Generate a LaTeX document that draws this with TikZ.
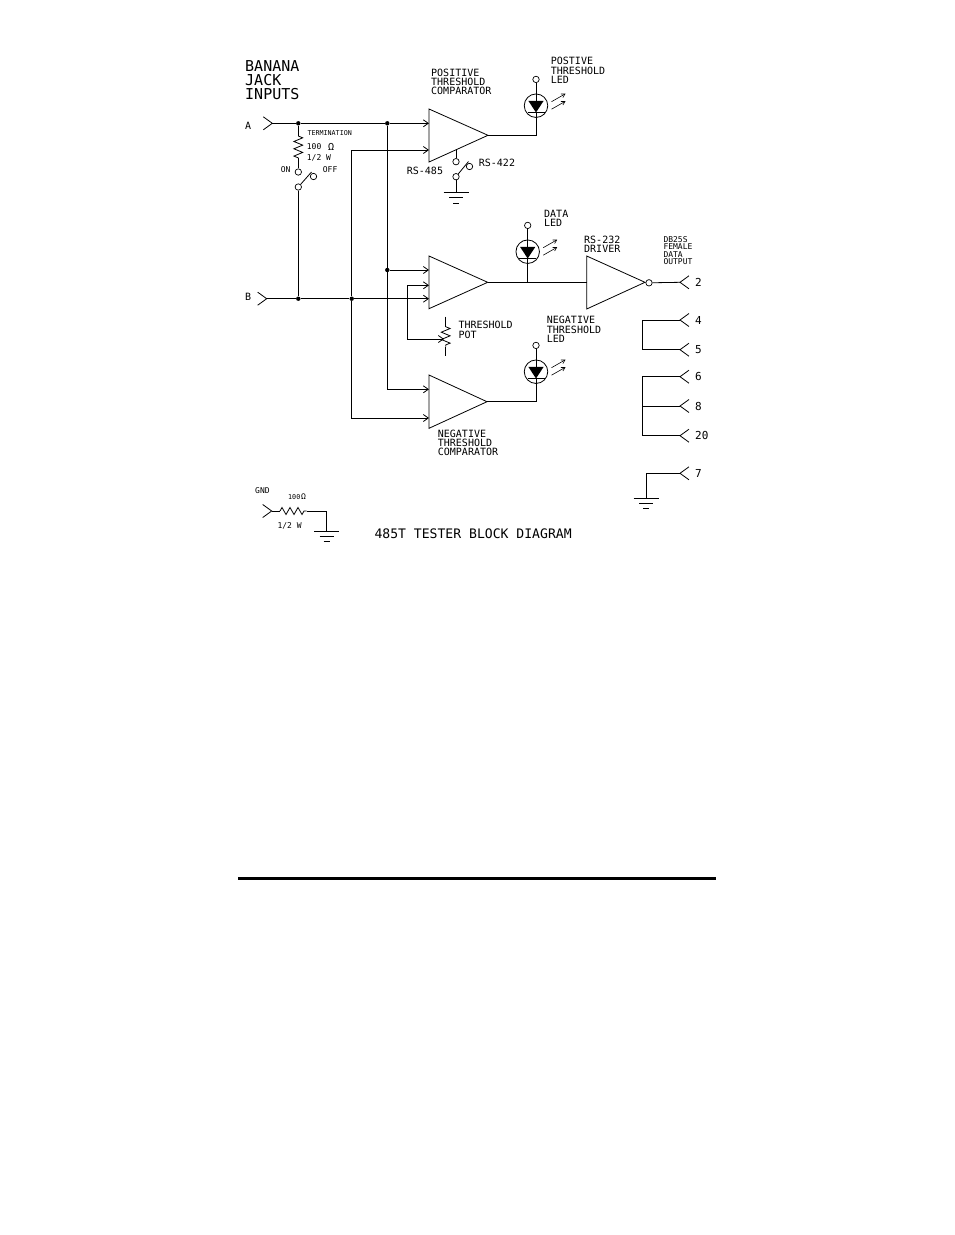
\documentclass[tikz,border=0pt]{standalone}
\usepackage{fontspec}
\setmainfont{DejaVu Sans Mono}
\usetikzlibrary{arrows.meta,decorations.pathmorphing}
\tikzset{
  wire/.style={line width=0.8pt},
  inarrow/.style={wire,-{Straight Barb[length=5pt,width=7pt]}},
  ledarrow/.style={line width=0.6pt,-{Straight Barb[length=3.5pt,width=4pt]}},
  junc/.style={circle,fill=black,inner sep=0pt,minimum size=4.4pt},
  hole/.style={circle,draw,line width=0.7pt,inner sep=0pt,minimum size=6.4pt},
  ledring/.style={circle,draw,line width=0.8pt,inner sep=0pt,minimum size=23.5pt},
  resist/.style={wire,decorate,decoration={zigzag,amplitude=4.4pt,segment length=7.3pt}},
  big/.style={anchor=west,inner sep=0pt,align=left,font=\fontsize{15}{14}\selectfont},
  mid/.style={anchor=west,inner sep=0pt,align=left,font=\fontsize{10}{9.3}\selectfont},
  small/.style={anchor=west,inner sep=0pt,align=left,font=\fontsize{8}{7.5}\selectfont},
  tiny/.style={anchor=west,inner sep=0pt,align=left,font=\fontsize{6.7}{7}\selectfont},
  pin/.style={anchor=west,inner sep=0pt,font=\fontsize{11}{11}\selectfont}
}
\begin{document}
\begin{tikzpicture}[x=1pt,y=-1pt]
    \fill[white] (0,0) rectangle (954,1235); %page

    %Amplifiers
    \foreach \nm/\xa/\ya/\yb/\xo/\yo in {cpos/429/109/162/488/135.3,cdat/429/256/308.7/487.7/282.3,cneg/429/375/428.3/487/401.7,cdrv/586.7/256/309/645/282.3}{
      \draw[wire] (\xa,\ya) -- (\xo,\yo) -- (\xa,\yb) --cycle;
      \coordinate (\nm) at (\xo,\yo);
    }
    \node[hole] (bub) at (649,282.8) {}; %driver bubble

    %Jacks on the left
    \foreach \nm/\xx/\yy in {jka/272.3/123.3,jkb/266.7/298.7,jkg/271.7/511}{
      \coordinate (\nm) at (\xx,\yy);
      \draw[wire] (\xx-9,\yy-6.5) -- (\nm) -- (\xx-9,\yy+6.5);
    }
    \node[mid] (la) at (245,126) {A};
    \node[mid] (lb) at (245,297) {B};
    \node[small] (lgnd) at (255,491) {GND};

    %Jacks on the right
    \foreach \nm/\yy/\lb in {jr2/282.3/2,jr4/320/4,jr5/349.7/5,jr6/376.7/6,jr8/406/8,jr20/435.7/20,jr7/473.3/7}{
      \coordinate (\nm) at (680,\yy);
      \draw[wire] (689,\yy-6.5) -- (\nm) -- (689,\yy+6.5);
      \node[pin] (l\nm) at (695,\yy) {\lb};
    }

    %LEDs
    \foreach \nm/\xx/\yy in {ledp/536/105.7,ledd/527.7/251.7,ledn/536/371.7}{
      \begin{scope}[shift={(\xx,\yy)}]
        \node[ledring] (\nm) at (0,0) {};
        \node[hole] (\nm t) at (0,-26.3) {};
        \coordinate (\nm a) at (0,6.8);
        \fill (-7.6,-4.8) -- (7.6,-4.8) -- (\nm a) --cycle;
        \draw[wire] (\nm t) -- (0,-4.8);
        \draw[wire] (-8.5,6.8) -- (8.5,6.8);
        \draw[ledarrow] (15.5,-4) -- (29.5,-12);
        \draw[ledarrow] (15.5,3.5) -- (29.5,-4.5);
      \end{scope}
    }

    %Input A and termination
    \node[junc] (ja1) at (298.3,123.3) {};
    \node[junc] (ja2) at (387.3,123.3) {};
    \coordinate (cposa) at (429,123.3);
    \draw[wire] (jka) -- (ja1) -- (ja2);
    \draw[inarrow] (ja2) -- (cposa);
    \coordinate (rat) at (298.3,136);
    \coordinate (rab) at (298.3,158);
    \draw[wire] (ja1) -- (rat);
    \draw[resist] (rat) -- (rab);
    \node[hole] (son) at (298.3,172) {}; %ON
    \node[hole] (soff) at (313.5,176.5) {}; %OFF
    \node[hole] (spiv) at (298.3,187) {};
    \coordinate (slev) at (311.5,172);
    \draw[wire] (rab) -- (son);
    \draw[wire] (spiv) -- (slev);

    %Input B
    \node[junc] (jb1) at (298.3,298.7) {};
    \node[junc] (jb2) at (351.7,298.7) {};
    \coordinate (cdatb) at (429,298.7);
    \draw[wire] (jkb) -- (jb1) -- (jb2);
    \draw[inarrow] (jb2) -- (cdatb);
    \draw[wire] (spiv) -- (jb1);

    %Feeds to the amplifiers
    \coordinate (bup) at (351.7,150);
    \coordinate (cposb) at (429,150);
    \coordinate (bdn) at (351.7,418);
    \coordinate (cnegb) at (429,418);
    \draw[inarrow] (jb2) -- (bup) -- (cposb);
    \draw[inarrow] (jb2) -- (bdn) -- (cnegb);
    \node[junc] (ja3) at (387.3,270) {};
    \coordinate (cdata) at (429,270);
    \coordinate (adn) at (387.3,389.3);
    \coordinate (cnega) at (429,389.3);
    \draw[wire] (ja2) -- (ja3);
    \draw[inarrow] (ja3) -- (cdata);
    \draw[inarrow] (ja3) -- (adn) -- (cnega);

    %Threshold pot
    \coordinate (tup) at (407.3,285.3);
    \coordinate (cdatc) at (429,285.3);
    \coordinate (tdn) at (407.3,339);
    \coordinate (pwip) at (444,339);
    \coordinate (ptop) at (445.7,316.7);
    \coordinate (prt) at (445.7,326.7);
    \coordinate (prb) at (445.7,346.7);
    \coordinate (pbot) at (445.7,356);
    \draw[inarrow] (tdn) -- (tup) -- (cdatc);
    \draw[inarrow] (tdn) -- (pwip);
    \draw[wire] (ptop) -- (prt);
    \draw[resist] (prt) -- (prb);
    \draw[wire] (prb) -- (pbot);

    %RS-485 / RS-422 switch
    \coordinate (cposg) at (456,150);
    \node[hole] (s85) at (456,161.7) {};
    \node[hole] (s22) at (469.5,166.5) {};
    \node[hole] (sgp) at (456,176.7) {};
    \coordinate (sgl) at (468.5,161.5);
    \coordinate (g1) at (456,192.7);
    \draw[wire] (cposg) -- (s85);
    \draw[wire] (sgp) -- (sgl);
    \draw[wire] (sgp) -- (g1);

    %Outputs
    \coordinate (ledpb) at (536,135.3);
    \draw[wire] (cpos) -- (ledpb) -- (ledpa);
    \coordinate (leddb) at (527.7,282.3);
    \coordinate (cdrvi) at (586.7,282.3);
    \draw[wire] (cdat) -- (leddb) -- (cdrvi);
    \draw[wire] (leddb) -- (ledda);
    \coordinate (lednb) at (536,401.7);
    \draw[wire] (cneg) -- (lednb) -- (ledna);
    \draw[wire] (bub) -- (jr2);

    %Looped pins
    \coordinate (l45t) at (642.5,320);
    \coordinate (l45b) at (642.5,349.7);
    \draw[wire] (jr4) -- (l45t) -- (l45b) -- (jr5);
    \coordinate (l6t) at (642.5,376.7);
    \coordinate (l6m) at (642.5,406);
    \coordinate (l6b) at (642.5,435.7);
    \draw[wire] (jr6) -- (l6t) -- (l6m) -- (l6b) -- (jr20);
    \draw[wire] (l6m) -- (jr8);
    \coordinate (l7) at (646,473.3);
    \coordinate (g2) at (646,498.3);
    \draw[wire] (jr7) -- (l7) -- (g2);

    %GND resistor
    \coordinate (rgl) at (280,511);
    \coordinate (rgr) at (306.7,511);
    \coordinate (rge) at (326.7,511);
    \coordinate (g3) at (326.7,531.3);
    \draw[wire] (jkg) -- (rgl);
    \draw[wire,decorate,decoration={zigzag,amplitude=3.5pt,segment length=8pt}] (rgl) -- (rgr);
    \draw[wire] (rgr) -- (rge) -- (g3);

    %Grounds
    \foreach \gd in {g1,g2,g3}{
      \begin{scope}[shift={(\gd)}]
        \draw[wire] (-12.5,0) -- (12.5,0);
        \draw[wire] (-7,5) -- (7,5);
        \draw[wire] (-3,10.5) -- (3,10.5);
      \end{scope}
    }

    %Labels
    \node[big] (banana) at (245,80.5) {BANANA\\[0pt]JACK\\[0pt]INPUTS};
    \node[mid] (cposl) at (431,82) {POSITIVE\\THRESHOLD\\COMPARATOR};
    \node[mid] (ledpl) at (550.7,70.3) {POSTIVE\\THRESHOLD\\LED};
    \node[tiny] (term) at (307.3,132.7) {TERMINATION};
    \node[small] (r100) at (306.7,146.7) {100};
    \node[mid] (rohm) at (328,146.7) {Ω};
    \node[small] (r12) at (306.7,157.6) {1/2 W};
    \node[small] (lon) at (280.7,170) {ON};
    \node[small] (loff) at (322.7,170) {OFF};
    \node[mid] (l485) at (406.7,171.3) {RS-485};
    \node[mid] (l422) at (478.7,163.3) {RS-422};
    \node[mid] (leddl) at (544,218) {DATA\\LED};
    \node[mid] (drvl) at (584,244.5) {RS-232\\DRIVER};
    \node[small] (dbl) at (663.3,250.5) {DB25S\\FEMALE\\DATA\\OUTPUT};
    \node[mid] (potl) at (458.3,330) {THRESHOLD\\POT};
    \node[mid] (lednl) at (546.7,329.3) {NEGATIVE\\THRESHOLD\\LED};
    \node[mid] (cnegl) at (437.7,443) {NEGATIVE\\THRESHOLD\\COMPARATOR};
    \node[tiny] (g100) at (288,496.7) {100};
    \node[small] (gohm) at (301,497) {Ω};
    \node[small] (g12) at (277.3,526) {1/2 W};
    \node[anchor=west,inner sep=0pt,font=\fontsize{13.1}{13}\selectfont] (title) at (374.3,534) {485T TESTER BLOCK DIAGRAM};

    %Rule at the foot
    \draw[line width=3pt] (238,878) -- (716,878);
\end{tikzpicture}
\end{document}
